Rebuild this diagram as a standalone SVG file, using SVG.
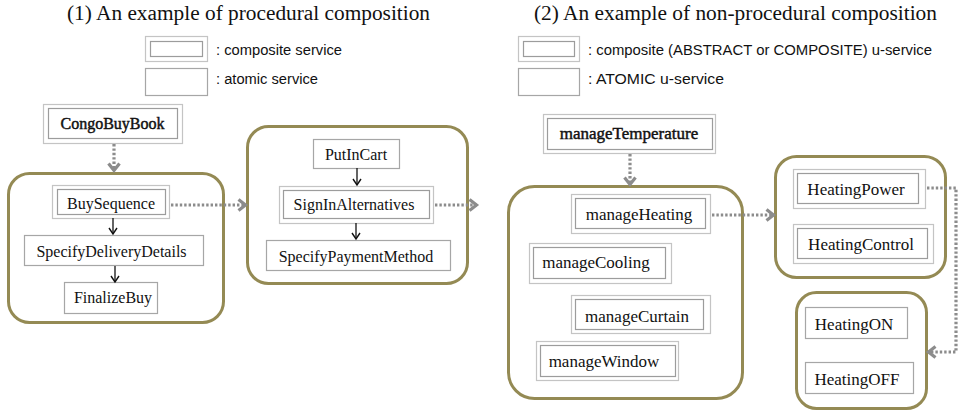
<svg xmlns="http://www.w3.org/2000/svg" width="964" height="413" viewBox="0 0 964 413">
  <style>
    .title { font-family: "Liberation Serif", "Times New Roman", serif; font-size: 20px; fill: #111; }
    .legend { font-family: "Liberation Sans", Arial, sans-serif; font-size: 14px; fill: #111; }
    .lbl { font-family: "Liberation Serif", "Times New Roman", serif; font-size: 16px; fill: #111; text-anchor: middle; }
    .lbl17 { font-size: 17px; }
    .strong { stroke: #111; stroke-width: 0.45px; }
    .outer { fill: #fff; stroke: #c4c4c4; stroke-width: 1.2; }
    .inner { fill: none; stroke: #9c9c9c; stroke-width: 1.2; }
    .atomic { fill: #fff; stroke: #a6a6a6; stroke-width: 1.2; }
    .group { fill: none; stroke: #948a54; stroke-width: 3; }
    .flow { fill: none; stroke: #8c8c8c; stroke-width: 3.2; stroke-dasharray: 2.4 2; }
    .seq { fill: none; stroke: #111; stroke-width: 1.3; }
  </style>
  <defs>
    <marker id="chev" markerUnits="userSpaceOnUse" markerWidth="14" markerHeight="14" refX="10" refY="7" orient="auto">
      <path d="M2.5,1.5 L9.5,7 L2.5,12.5" fill="none" stroke="#8c8c8c" stroke-width="3.2" stroke-linejoin="miter"/>
    </marker>
    <marker id="vee" markerUnits="userSpaceOnUse" markerWidth="10" markerHeight="10" refX="8" refY="5" orient="auto">
      <path d="M2,1 L8,5 L2,9" fill="none" stroke="#111" stroke-width="1.4"/>
    </marker>
  </defs>

  <!-- headings -->
  <text class="title" x="67" y="20" textLength="363" lengthAdjust="spacingAndGlyphs">(1) An example of procedural composition</text>
  <text class="title" x="534" y="20" textLength="403" lengthAdjust="spacingAndGlyphs">(2) An example of non-procedural composition</text>

  <!-- legends -->
  <g id="legend-left">
    <rect class="outer" x="145.5" y="36.5" width="62" height="25"/>
    <rect class="inner" x="150.5" y="41.5" width="52" height="15"/>
    <text class="legend" x="216" y="54.5" textLength="126" lengthAdjust="spacingAndGlyphs">: composite service</text>
    <rect class="atomic" x="145.5" y="68.5" width="62" height="27"/>
    <text class="legend" x="216" y="84" textLength="102" lengthAdjust="spacingAndGlyphs">: atomic service</text>
  </g>
  <g id="legend-right">
    <rect class="outer" x="518.5" y="36.5" width="61" height="25"/>
    <rect class="inner" x="523.5" y="41.5" width="51" height="15"/>
    <text class="legend" x="588" y="54.5" textLength="344" lengthAdjust="spacingAndGlyphs">: composite (ABSTRACT or COMPOSITE) u-service</text>
    <rect class="atomic" x="518.5" y="68.5" width="61" height="27"/>
    <text class="legend" x="588" y="84" textLength="136" lengthAdjust="spacingAndGlyphs">: ATOMIC u-service</text>
  </g>

  <!-- procedural composition -->
  <g id="congoBuyBook">
    <rect class="outer" x="43.5" y="104.5" width="139" height="39"/>
    <rect class="inner" x="48.5" y="108.5" width="129" height="30"/>
    <text class="lbl strong" x="112.5" y="129">CongoBuyBook</text>
  </g>
  <g id="group-buy">
    <rect class="group" x="8.5" y="173.5" width="215" height="149" rx="21"/>
  </g>
  <g id="buySequence">
    <rect class="outer" x="52.5" y="185.5" width="117" height="33"/>
    <rect class="inner" x="57.5" y="189.5" width="108" height="25"/>
    <text class="lbl" x="111" y="209">BuySequence</text>
  </g>
  <g id="specifyDeliveryDetails">
    <rect class="atomic" x="24.5" y="235.5" width="179" height="30"/>
    <text class="lbl" x="111.5" y="257">SpecifyDeliveryDetails</text>
  </g>
  <g id="finalizeBuy">
    <rect class="atomic" x="64.5" y="282.5" width="93" height="31"/>
    <text class="lbl" x="113" y="303">FinalizeBuy</text>
  </g>
  <g id="group-sequence">
    <rect class="group" x="247.5" y="126.5" width="220" height="157" rx="21"/>
  </g>
  <g id="putInCart">
    <rect class="atomic" x="313.5" y="139.5" width="86" height="29"/>
    <text class="lbl" x="356" y="160">PutInCart</text>
  </g>
  <g id="signInAlternatives">
    <rect class="outer" x="279.5" y="186.5" width="154" height="37"/>
    <rect class="inner" x="283.5" y="190.5" width="146" height="28"/>
    <text class="lbl" x="354" y="210">SignInAlternatives</text>
  </g>
  <g id="specifyPaymentMethod">
    <rect class="atomic" x="266.5" y="240.5" width="184" height="30"/>
    <text class="lbl" x="356" y="262">SpecifyPaymentMethod</text>
  </g>

  <!-- non-procedural composition -->
  <g id="manageTemperature">
    <rect class="outer" x="543.5" y="114.5" width="172" height="39"/>
    <rect class="inner" x="547.5" y="118.5" width="165" height="31"/>
    <text class="lbl lbl17 strong" x="629" y="139">manageTemperature</text>
  </g>
  <g id="group-temperature">
    <rect class="group" x="508.5" y="186.5" width="234" height="212" rx="26"/>
  </g>
  <g id="manageHeating">
    <rect class="outer" x="571.5" y="194.5" width="139" height="39"/>
    <rect class="inner" x="575.5" y="198.5" width="130" height="30"/>
    <text class="lbl lbl17" x="639" y="220">manageHeating</text>
  </g>
  <g id="manageCooling">
    <rect class="outer" x="529.5" y="243.5" width="142" height="40"/>
    <rect class="inner" x="533.5" y="247.5" width="132" height="31"/>
    <text class="lbl lbl17" x="596" y="268">manageCooling</text>
  </g>
  <g id="manageCurtain">
    <rect class="outer" x="571.5" y="295.5" width="139" height="38"/>
    <rect class="inner" x="575.5" y="299.5" width="128" height="30"/>
    <text class="lbl lbl17" x="637" y="322">manageCurtain</text>
  </g>
  <g id="manageWindow">
    <rect class="outer" x="536.5" y="341.5" width="142" height="39"/>
    <rect class="inner" x="540.5" y="345.5" width="135" height="31"/>
    <text class="lbl lbl17" x="604" y="367">manageWindow</text>
  </g>
  <g id="group-heating">
    <rect class="group" x="775.5" y="156.5" width="170" height="121" rx="21"/>
  </g>
  <g id="heatingPower">
    <rect class="outer" x="793.5" y="169.5" width="132" height="39"/>
    <rect class="inner" x="797.5" y="173.5" width="121" height="30"/>
    <text class="lbl lbl17" x="856" y="195">HeatingPower</text>
  </g>
  <g id="heatingControl">
    <rect class="outer" x="793.5" y="224.5" width="140" height="39"/>
    <rect class="inner" x="797.5" y="228.5" width="130" height="30"/>
    <text class="lbl lbl17" x="861" y="250">HeatingControl</text>
  </g>
  <g id="group-power">
    <rect class="group" x="796.5" y="292.5" width="130" height="116" rx="20"/>
  </g>
  <g id="heatingON">
    <rect class="atomic" x="805.5" y="307.5" width="102" height="31"/>
    <text class="lbl lbl17" x="854" y="330">HeatingON</text>
  </g>
  <g id="heatingOFF">
    <rect class="atomic" x="805.5" y="362.5" width="108" height="31"/>
    <text class="lbl lbl17" x="857" y="385">HeatingOFF</text>
  </g>

  <!-- connectors -->
  <g id="connectors">
    <line class="flow" x1="114" y1="144" x2="114" y2="171" marker-end="url(#chev)"/>
    <line class="flow" x1="171" y1="205" x2="246" y2="205" marker-end="url(#chev)"/>
    <line class="flow" x1="435" y1="205" x2="477" y2="205" marker-end="url(#chev)"/>
    <line class="flow" x1="630" y1="154" x2="630" y2="185" marker-end="url(#chev)"/>
    <line class="flow" x1="712" y1="215" x2="774" y2="215" marker-end="url(#chev)"/>
    <polyline class="flow" points="927,188 956,188 956,352 928,352" marker-end="url(#chev)"/>
    <line class="seq" x1="113" y1="218" x2="113" y2="234" marker-end="url(#vee)"/>
    <line class="seq" x1="115" y1="266" x2="115" y2="282" marker-end="url(#vee)"/>
    <line class="seq" x1="357" y1="168" x2="357" y2="185" marker-end="url(#vee)"/>
    <line class="seq" x1="356" y1="223" x2="356" y2="239" marker-end="url(#vee)"/>
  </g>
</svg>
